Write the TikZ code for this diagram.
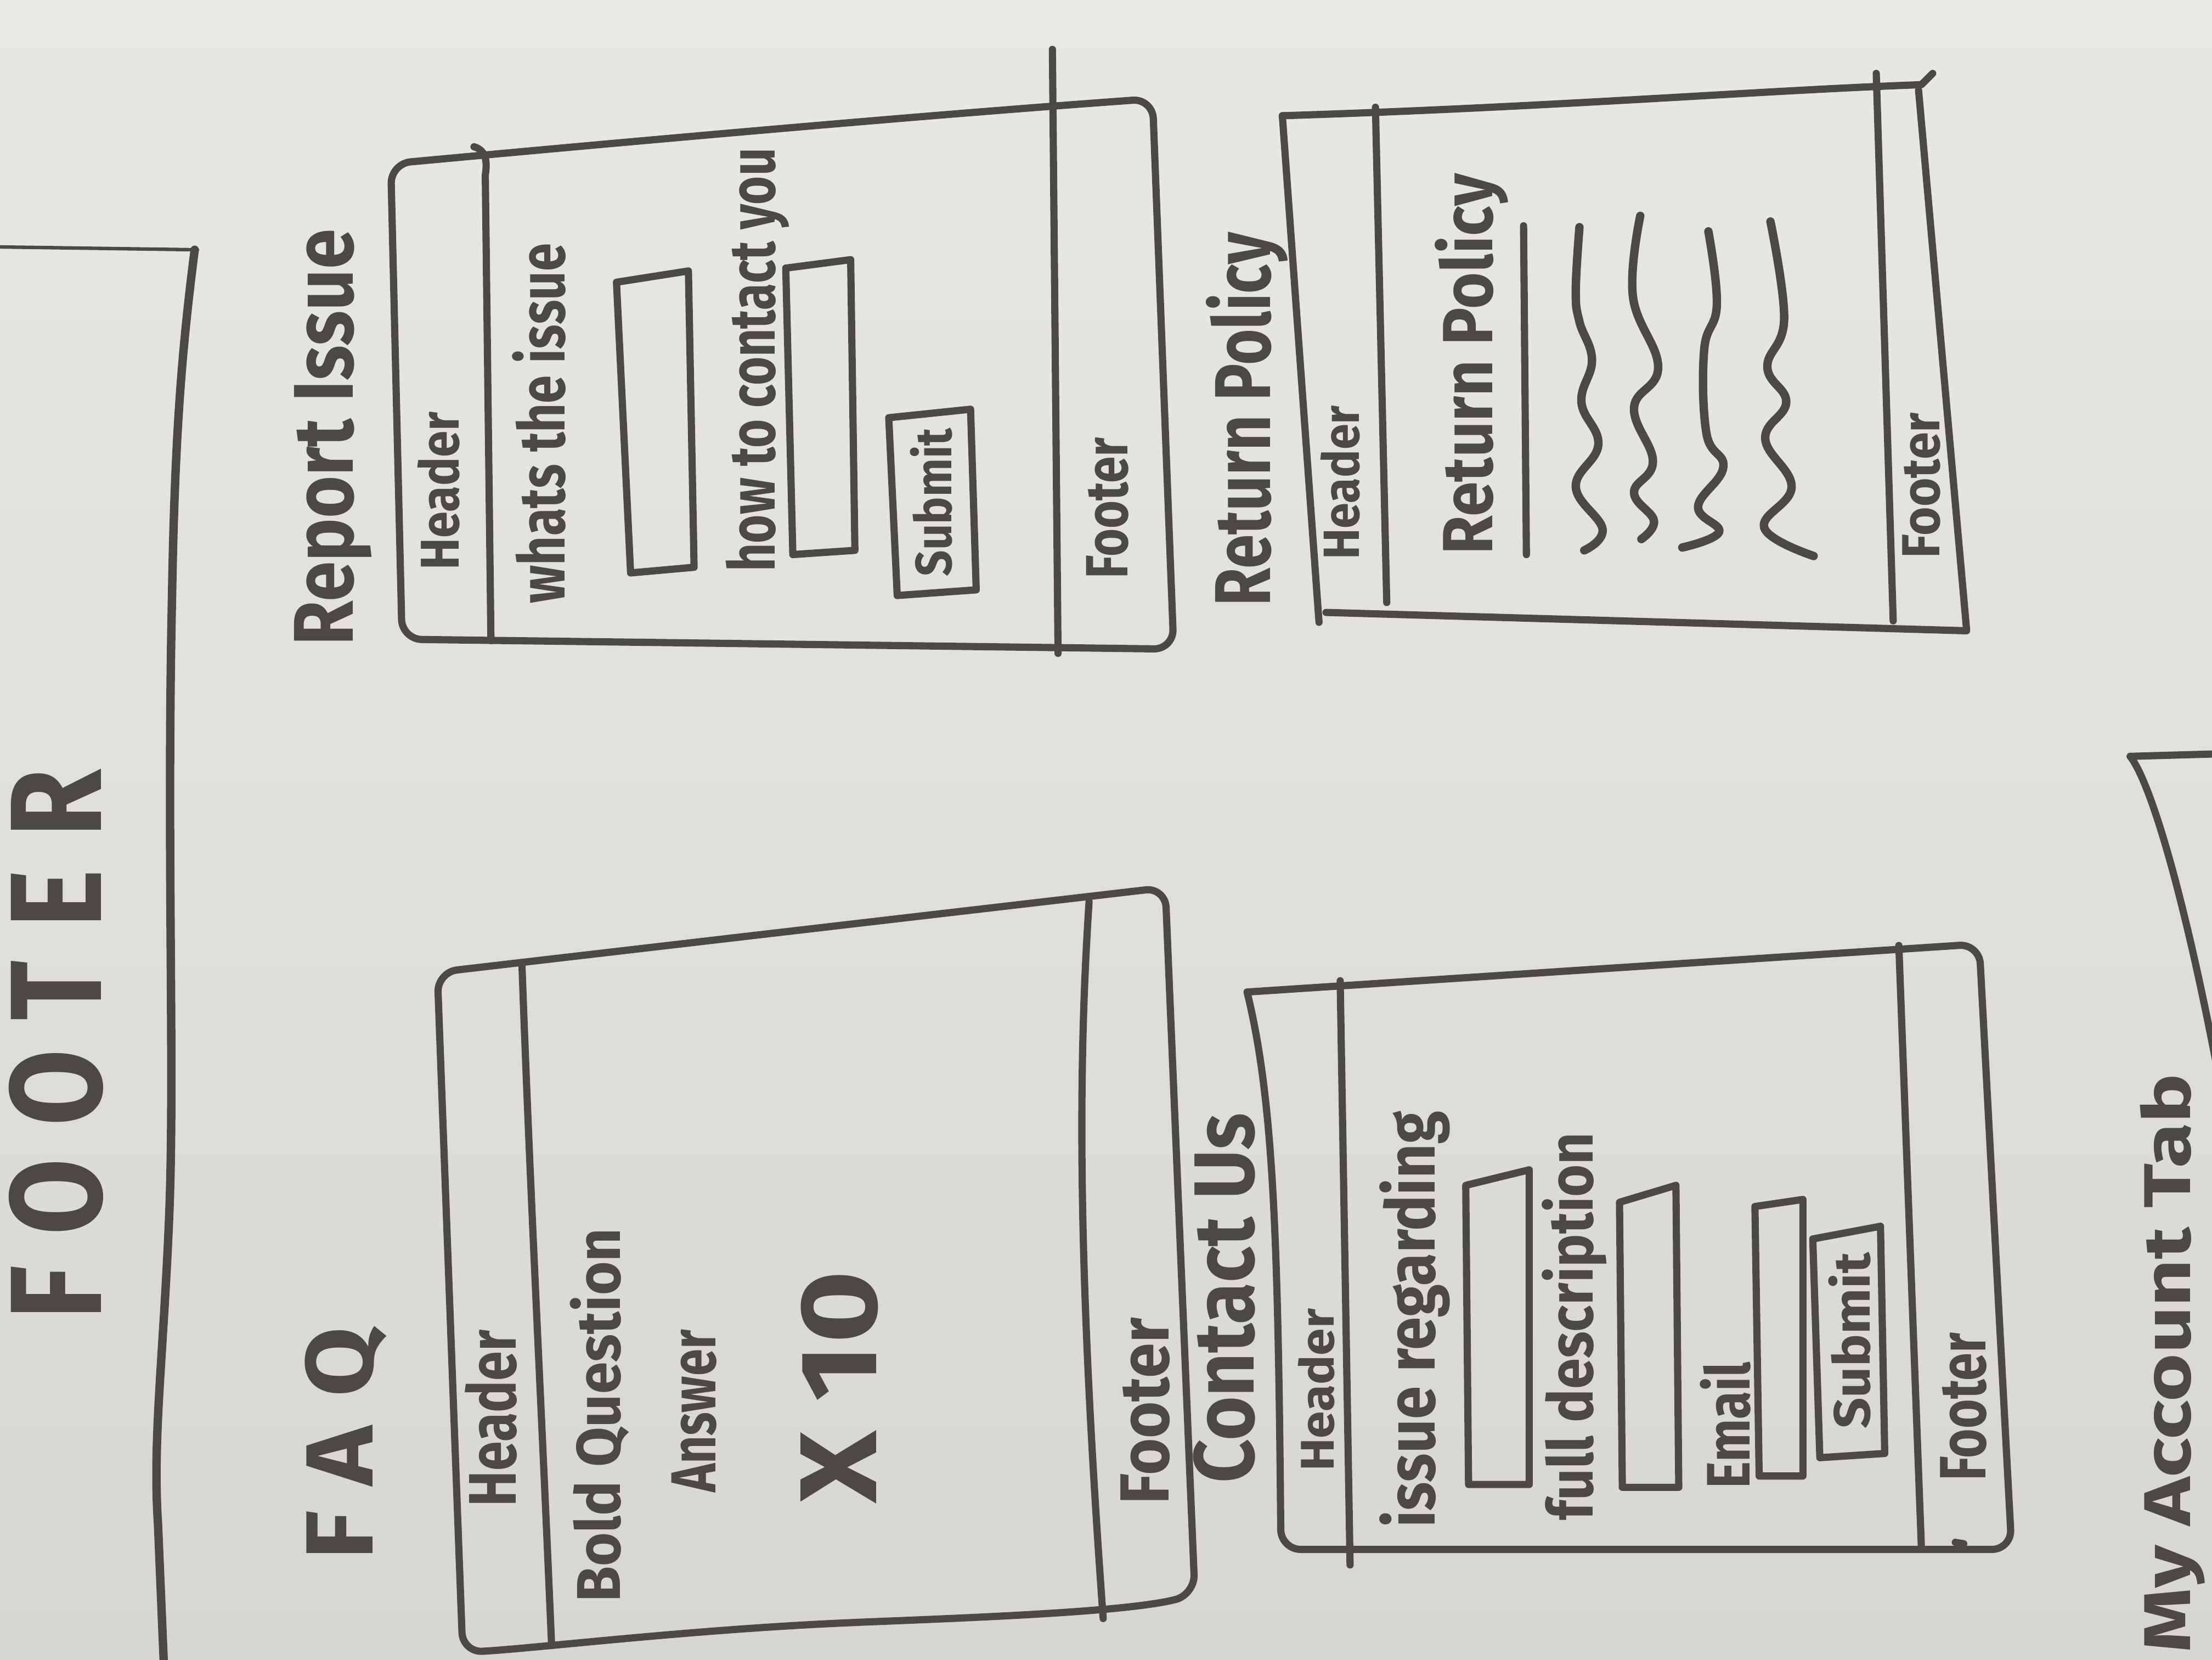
\documentclass[tikz,border=0pt]{standalone}
\usepackage{fontspec}
\usepackage{graphicx}
\setmainfont{Fira Sans}
\newlength\px \setlength\px{0.1mm}
% handwritten label squeezed to a given length and height
\newcommand\hw[3]{\resizebox*{#1\px}{#2\px}{#3}}
\definecolor{boardlight}{RGB}{232,232,229}
\definecolor{boarddark}{RGB}{215,214,210}
\definecolor{inkc}{RGB}{76,72,70}
\tikzset{
  ink/.style={draw=inkc, line width=1.45pt, line cap=round, line join=round},
  thinink/.style={draw=inkc, line width=0.7pt, line cap=round},
  lbl/.style={rotate=90, inner sep=0pt, outer sep=0pt, text=inkc, font=\bfseries},
  biglbl/.style={lbl},
  wave/.style={ink, line width=1.7pt},
}
\begin{document}
\begin{tikzpicture}[x=0.1mm, y=-0.1mm]
\useasboundingbox (0,0) rectangle (1568,1176);
\shade[top color=boardlight, bottom color=boarddark] (0,0) rectangle (1568,1176);
\clip (0,0) rectangle (1568,1176);

% ---- large page on the left
\draw[thinink] (0,175) -- (140,177);
\draw[ink, line width=1.7pt] (138,177) .. controls (130,240) and (124,300) .. (122,420)
  .. controls (118,600) and (124,760) .. (120,860)
  .. controls (116,960) and (108,1020) .. (112,1080) -- (116,1176);
\node[biglbl] (bigfooter) at (40,740) {\hw{390}{67}{\addfontfeature{LetterSpace=30}FOOTER}};

% ---- Report Issue page
\node[biglbl] (rilabel) at (236,310) {\hw{295}{55}{Report Issue}};
\draw[ink, rounded corners=4] (277,116) .. controls (450,100) and (650,82) .. (817,70)
  -- (832,460) -- (285,453) -- cycle;
\draw[ink] (336,104) .. controls (343,106) and (346,112) .. (344,124) -- (348,454);
\draw[ink] (746,35) -- (750,463);
\node[lbl] (rihead) at (311,348) {\hw{112}{30}{Header}};
\node[lbl] (riq1) at (382,300) {\hw{255}{38}{whats the issue}};
\draw[ink] (437,200) -- (488,192) -- (492,402) -- (447,406) -- cycle;
\node[lbl] (riq2) at (537,255) {\hw{300}{45}{how to contact you}};
\draw[ink] (557,190) -- (603,184) -- (606,390) -- (562,393) -- cycle;
\draw[ink] (630,296) -- (688,290) -- (692,418) -- (636,422) -- cycle;
\node[lbl] (risub) at (660,356) {\hw{105}{30}{Submit}};
\node[lbl] (rifoot) at (785,360) {\hw{100}{30}{Footer}};

% ---- Return Policy page
\node[biglbl] (rplabel) at (884,297) {\hw{265}{58}{Return Policy}};
\draw[ink] (909,82) .. controls (1100,76) and (1250,64) .. (1362,60) -- (1370,52);
\draw[ink] (909,82) -- (935,441);
\draw[ink] (1360,64) -- (1394,446);
\draw[ink] (940,434) -- (1394,447);
\draw[ink] (975,76) -- (983,427);
\draw[ink] (1330,52) -- (1342,440);
\node[lbl] (rphead) at (950,342) {\hw{109}{28}{Header}};
\node[biglbl] (rptitle) at (1043,258) {\hw{270}{52}{Return Policy}};
\draw[ink] (1080,160) -- (1082,393);
\draw[wave] plot[smooth, tension=0.7] coordinates {(1119.6,161) (1117,206) (1119.6,228) (1128.5,255) (1121,285) (1133,315) (1117,345) (1136,375) (1123,390)};
\draw[wave] plot[smooth, tension=0.7] coordinates {(1162.7,153) (1157.5,210) (1175.4,260) (1158.3,289) (1171.7,327) (1158.3,349) (1172.4,369) (1163.5,382)};
\draw[wave] plot[smooth, tension=0.7] coordinates {(1211,164) (1217,216) (1208,248) (1209.6,307) (1221.6,331) (1203.7,359) (1218.6,377) (1192.5,388)};
\draw[wave] plot[smooth, tension=0.7] coordinates {(1255,157) (1264.7,226) (1252.8,260) (1266.2,285) (1251.3,311) (1270,345) (1250.6,374) (1285.6,394)};
\node[lbl] (rpfoot) at (1362,344) {\hw{103}{27}{Footer}};

% ---- FAQ page
\node[biglbl] (faqlabel) at (245,1023) {\hw{165}{58}{\addfontfeature{LetterSpace=30}FAQ}};
\draw[ink, rounded corners=4] (310,689) -- (826,629) -- (847,1130)
  .. controls (800,1142) and (700,1146) .. (600,1150)
  .. controls (480,1156) and (380,1168) .. (328,1171) -- cycle;
\draw[ink] (370,684) .. controls (376,850) and (384,1000) .. (391,1166);
\draw[ink] (772,639) .. controls (764,760) and (764,900) .. (782,1147);
\node[lbl] (faqhead) at (348,1005) {\hw{125}{37}{Header}};
\node[lbl] (faqq) at (425,1003) {\hw{265}{42}{Bold Question}};
\node[lbl] (faqa) at (492,1000) {\hw{115}{32}{Answer}};
\node[biglbl] (faqx) at (595,983) {\hw{165}{55}{X 10}};
\node[lbl] (faqfoot) at (812,1000) {\hw{132}{35}{Footer}};

% ---- Contact Us page
\node[biglbl] (culabel) at (868,920) {\hw{262}{44}{Contact Us}};
\draw[ink, rounded corners=4] (884,703) -- (1403,669) -- (1426,1098) -- (908,1098)
  .. controls (906,880) and (903,780) .. (884,703);
\draw[ink] (950,695) -- (957,1109);
\draw[ink] (1346,670) -- (1362,1097);
\node[lbl] (cuhead) at (933,985) {\hw{115}{26}{Header}};
\node[lbl] (cuq1) at (1003,935) {\hw{295}{50}{issue regarding}};
\draw[ink] (1039,840) -- (1084,829) -- (1084,1052) -- (1041,1052) -- cycle;
\node[lbl] (cuq2) at (1116,940) {\hw{275}{46}{full description}};
\draw[ink] (1148,852) -- (1188,840) -- (1190,1054) -- (1150,1054) -- cycle;
\node[lbl] (cuq3) at (1223,1010) {\hw{90}{36}{Email}};
\draw[ink] (1244,855) -- (1278,850) -- (1278,1046) -- (1247,1046) -- cycle;
\draw[ink] (1285,878) -- (1333,869) -- (1336,1030) -- (1290,1033) -- cycle;
\node[lbl] (cusub) at (1311,950) {\hw{125}{30}{Submit}};
\node[lbl] (cufoot) at (1392,997) {\hw{105}{33}{Footer}};
\draw[ink] (1386,1093) -- (1392,1094);

% ---- My Account Tab page at the right edge
\draw[ink] (1510,536) -- (1580,534);
\draw[ink] (1510,536) .. controls (1525,555) and (1550,640) .. (1575,775);
\node[biglbl] (matab) at (1540,966) {\hw{410}{46}{My Account Tab}};
\end{tikzpicture}
\end{document}
